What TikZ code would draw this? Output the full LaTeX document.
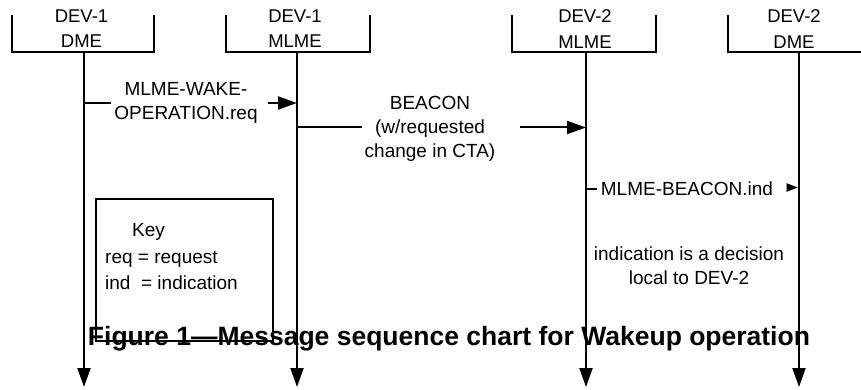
\documentclass[tikz,border=0pt]{standalone}
\usepackage{fontspec}
\setmainfont{Liberation Sans}
\usetikzlibrary{arrows.meta}
\begin{document}
\begin{tikzpicture}[x=1pt,y=-1pt,
  lane/.style={line width=2pt, -{Triangle[length=19pt,width=13pt]}},
  bracketline/.style={line width=2pt, line join=miter},
  msg/.style={line width=2pt},
  msgarrow/.style={line width=2pt, -{Triangle[length=19pt,width=13pt]}},
  smallarrow/.style={line width=0.2pt, -{Triangle[length=11pt,width=8.5pt]}},
  hdr/.style={font=\fontsize{18.5}{25.7}\selectfont, align=center, inner sep=0pt, anchor=north},
  lbl/.style={font=\fontsize{19}{24}\selectfont, align=center, inner sep=0pt},
  keytext/.style={font=\fontsize{19}{24}\selectfont, inner sep=0pt},
  figcap/.style={font=\fontsize{26.5}{30}\selectfont\bfseries, inner sep=0pt, anchor=base}]
\useasboundingbox (0,0) rectangle (861,390);
\clip (0,0) rectangle (861,390);

% headers
\node[hdr] (h1) at (81.5,9.3) {DEV-1\\DME};
\node[hdr] (h2) at (295,9.3) {DEV-1\\MLME};
\node[hdr] (h3) at (585,9.3) {DEV-2\\MLME};
\node[hdr] (h4) at (794,9.3) {DEV-2\\DME};

\draw[bracketline] (12,15) -- (12,52.5) -- (154,52.5) -- (154,15);
\draw[bracketline] (226,15) -- (226,52.5) -- (370,52.5) -- (370,15);
\draw[bracketline] (512,15) -- (512,52.5) -- (656,52.5) -- (656,15);
\draw[bracketline] (728,15) -- (728,52.5) -- (872,52.5) -- (872,15);

% lifelines
\coordinate (t1) at (84,52.5);  \coordinate (b1) at (84,387);
\coordinate (t2) at (297,52.5); \coordinate (b2) at (297,387);
\coordinate (t3) at (586,52.5); \coordinate (b3) at (586,387);
\coordinate (t4) at (799,52.5); \coordinate (b4) at (799,387);
\draw[lane] (t1) -- (b1);
\draw[lane] (t2) -- (b2);
\draw[lane] (t3) -- (b3);
\draw[lane] (t4) -- (b4);

% message 1
\coordinate (m1a) at (84,103);  \coordinate (m1b) at (111,103);
\coordinate (m1c) at (268,103); \coordinate (m1d) at (297,103);
\draw[msg] (m1a) -- (m1b);
\draw[msgarrow] (m1c) -- (m1d);
\node[lbl, anchor=north] (l1) at (186,82.7) {MLME-WAKE-\\OPERATION.req};

% message 2
\coordinate (m2a) at (297,127.5); \coordinate (m2b) at (362,127.5);
\coordinate (m2c) at (520,127.5); \coordinate (m2d) at (586,127.5);
\draw[msg] (m2a) -- (m2b);
\draw[msgarrow] (m2c) -- (m2d);
\node[lbl, anchor=north] (l2) at (430,96) {BEACON\\(w/requested\\change in CTA)};

% message 3
\coordinate (m3a) at (586,188.5); \coordinate (m3b) at (597,188.5);
\coordinate (m3c) at (786.5,187.5); \coordinate (m3d) at (797.5,187.5);
\draw[msg] (m3a) -- (m3b);
\draw[smallarrow] (m3c) -- (m3d);
\node[keytext, anchor=base west] (l3) at (600.7,195) {MLME-BEACON.ind};

% note
\node[lbl, anchor=north] (note) at (689,246.7) {indication is a decision\\local to DEV-2};

% key box
\node[draw, line width=1.8pt, minimum width=177pt, minimum height=142pt, inner sep=0pt, outer sep=0pt, anchor=north west] (keybox) at (96,199) {};
\node[keytext, anchor=base] (k0) at (148.5,236.7) {Key};
\node[keytext, anchor=base west] (k1) at (105,263.3) {req = request};
\node[keytext, anchor=base west] (k2) at (105,289) {ind\ \ = indication};

% caption
\node[figcap] (fig) at (449,345.7) {Figure 1—Message sequence chart for Wakeup operation};
\end{tikzpicture}
\end{document}
